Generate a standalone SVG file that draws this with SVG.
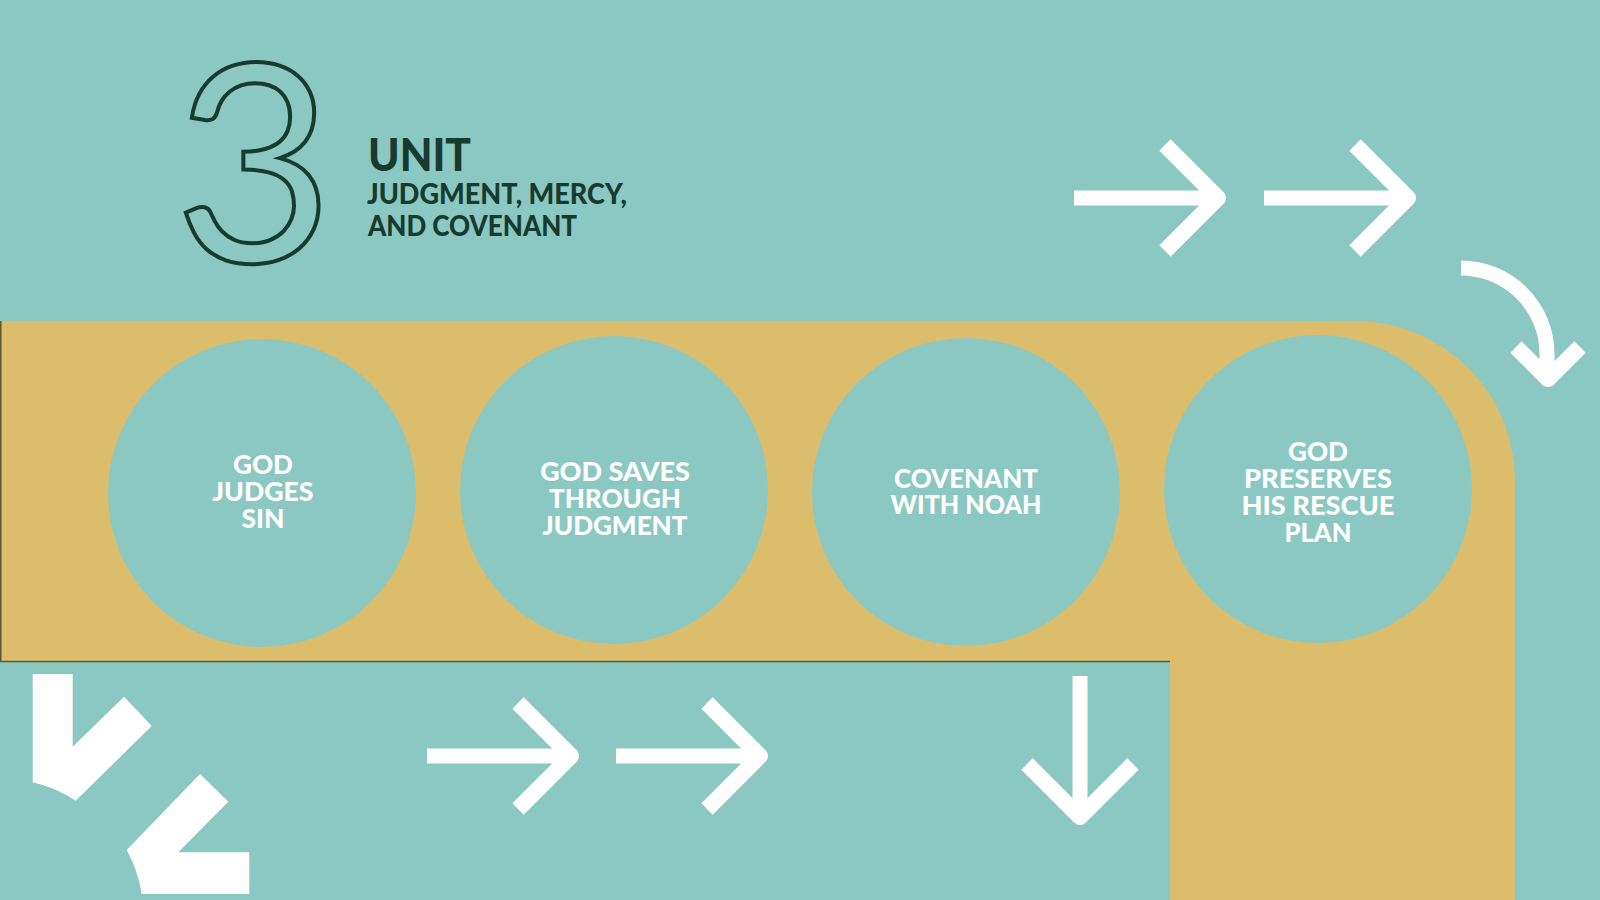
<svg xmlns="http://www.w3.org/2000/svg" width="1600" height="900" viewBox="0 0 1600 900">
<style>
.ttl{font-family:Lato,"Liberation Sans",sans-serif;font-weight:900;fill:#163B2F}
.lbl{font-family:Lato,"Liberation Sans",sans-serif;font-weight:900;font-size:27px;fill:#FFFFFF;text-anchor:middle}
.circ{fill:#8BC8C1}
.arr{fill:none;stroke:#FFFFFF;stroke-width:15;stroke-linejoin:round;stroke-linecap:butt}
.head{fill:none;stroke:#FFFFFF;stroke-width:16;stroke-linejoin:round;stroke-linecap:butt}
</style>
<rect x="0" y="0" width="1600" height="900" fill="#8BC8C1"/>
<path d="M0,321 H1355 A160,160 0 0 1 1515,481 V900 H1170 V662 H0 Z" fill="#DCBD6C"/>
<path d="M0.75,321 V661.5 H1170" fill="none" stroke="#5E5836" stroke-width="1.5"/>

<g id="title">
<text x="254" y="262" font-family="Lato,'Liberation Sans',sans-serif" font-weight="400" font-size="276" text-anchor="middle" fill="none" stroke="#163B2F" stroke-width="4">3</text>
<text class="ttl" x="368" y="171" font-size="45" textLength="103" lengthAdjust="spacingAndGlyphs">UNIT</text>
<text class="ttl" x="367" y="204" font-size="29" textLength="260" lengthAdjust="spacingAndGlyphs">JUDGMENT, MERCY,</text>
<text class="ttl" x="368" y="236" font-size="29" textLength="209" lengthAdjust="spacingAndGlyphs">AND COVENANT</text>
</g>

<g id="node1">
<circle class="circ" cx="262" cy="493" r="154"/>
<text class="lbl" x="263" y="474" textLength="60" lengthAdjust="spacingAndGlyphs">GOD</text>
<text class="lbl" x="263" y="501" textLength="101" lengthAdjust="spacingAndGlyphs">JUDGES</text>
<text class="lbl" x="263" y="528" textLength="43" lengthAdjust="spacingAndGlyphs">SIN</text>
</g>
<g id="node2">
<circle class="circ" cx="614" cy="490" r="154"/>
<text class="lbl" x="615" y="481" textLength="150" lengthAdjust="spacingAndGlyphs">GOD SAVES</text>
<text class="lbl" x="615" y="508" textLength="132" lengthAdjust="spacingAndGlyphs">THROUGH</text>
<text class="lbl" x="615" y="535" textLength="145" lengthAdjust="spacingAndGlyphs">JUDGMENT</text>
</g>
<g id="node3">
<circle class="circ" cx="966" cy="492" r="154"/>
<text class="lbl" x="966" y="488" textLength="144" lengthAdjust="spacingAndGlyphs">COVENANT</text>
<text class="lbl" x="966" y="514" textLength="151" lengthAdjust="spacingAndGlyphs">WITH NOAH</text>
</g>
<g id="node4">
<circle class="circ" cx="1318" cy="489" r="154"/>
<text class="lbl" x="1318" y="461" textLength="60" lengthAdjust="spacingAndGlyphs">GOD</text>
<text class="lbl" x="1318" y="488" textLength="148" lengthAdjust="spacingAndGlyphs">PRESERVES</text>
<text class="lbl" x="1318" y="515" textLength="153" lengthAdjust="spacingAndGlyphs">HIS RESCUE</text>
<text class="lbl" x="1318" y="542" textLength="67" lengthAdjust="spacingAndGlyphs">PLAN</text>
</g>

<g id="connectors">
<path class="arr" d="M1074,198 H1216"/>
<path class="head" d="M1165,145 L1218,198 L1165,251"/>
<path class="arr" d="M1264,198 H1406"/>
<path class="head" d="M1355,145 L1408,198 L1355,251"/>
<path class="arr" stroke-width="13" d="M1461,268 A86,86 0 0 1 1547,354 V376"/>
<path class="head" stroke-width="15" d="M1516,347 L1548,379 L1580,347"/>
<path class="arr" d="M427,756 H569"/>
<path class="head" d="M518,703 L571,756 L518,809"/>
<path class="arr" d="M616,756 H758"/>
<path class="head" d="M707,703 L760,756 L707,809"/>
<path class="arr" d="M1080,676 V815"/>
<path class="head" d="M1027,764 L1080,817 L1133,764"/>
<path fill="#FFFFFF" d="M32.7,674 H72.7 V746.7 L124,696.7 L151.7,726 L75.7,800.7 A133,133 0 0 0 32.7,782.3 Z"/>
<path fill="#FFFFFF" d="M200,774 L228.3,801.7 L178.3,852.3 H249.3 V894 H141.7 A133,133 0 0 0 126.7,850 Z"/>
</g>
</svg>
